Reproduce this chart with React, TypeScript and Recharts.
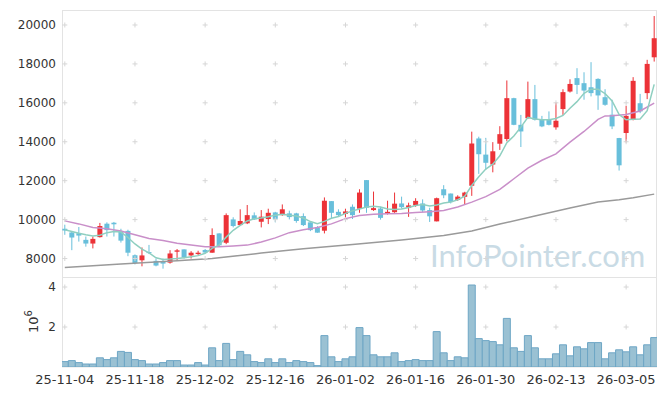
import React from 'react'
import { ComposedChart, Bar, Line, XAxis, YAxis, ReferenceDot } from 'recharts'

// trading days, 25-11-04 .. 26-03-11
const dates = [
  '25-11-04', '25-11-05', '25-11-06', '25-11-07', '25-11-10', '25-11-11', '25-11-12', '25-11-13', '25-11-14', '25-11-17',
  '25-11-18', '25-11-19', '25-11-20', '25-11-21', '25-11-24', '25-11-25', '25-11-26', '25-11-27', '25-11-28', '25-12-01',
  '25-12-02', '25-12-03', '25-12-04', '25-12-05', '25-12-08', '25-12-09', '25-12-10', '25-12-11', '25-12-12', '25-12-15',
  '25-12-16', '25-12-17', '25-12-18', '25-12-19', '25-12-22', '25-12-23', '25-12-24', '25-12-26', '25-12-29', '25-12-30',
  '26-01-02', '26-01-05', '26-01-06', '26-01-07', '26-01-08', '26-01-09', '26-01-12', '26-01-13', '26-01-14', '26-01-15',
  '26-01-16', '26-01-19', '26-01-20', '26-01-21', '26-01-22', '26-01-23', '26-01-26', '26-01-27', '26-01-28', '26-01-29',
  '26-01-30', '26-02-02', '26-02-03', '26-02-04', '26-02-05', '26-02-06', '26-02-09', '26-02-10', '26-02-11', '26-02-12',
  '26-02-13', '26-02-19', '26-02-20', '26-02-23', '26-02-24', '26-02-25', '26-02-26', '26-02-27', '26-03-03', '26-03-04',
  '26-03-05', '26-03-06', '26-03-09', '26-03-10', '26-03-11',
]

const open = [
  9530, 9340, 9300, 8960, 8770, 9100, 9790, 9840, 9410, 9420,
  8170, 7910, 8330, 7880, 7840, 7790, 8350, 8470, 8160, 8230,
  8440, 8300, 9290, 8810, 10010, 9720, 9810, 10220, 9890, 10030,
  10370, 10230, 10320, 10320, 10180, 9860, 9600, 9430, 10950, 10400,
  10290, 10660, 10560, 12030, 10490, 10570, 10310, 10380, 10830, 10610,
  10730, 10830, 10490, 9910, 11560, 11340, 11010, 11170, 11740, 14170,
  13340, 12830, 13900, 14140, 16240, 14870, 15210, 16190, 15160, 15130,
  14740, 15680, 16580, 17270, 17010, 16800, 17230, 16290, 15390, 14190,
  14450, 15130, 15980, 16500, 18340,
]
const high = [
  9740, 9360, 9620, 9130, 9130, 9830, 9860, 9880, 9530, 9480,
  8210, 8570, 8700, 8000, 8000, 8430, 8490, 8470, 8380, 8400,
  8490, 9550, 9300, 10320, 10120, 10530, 10750, 10370, 10490, 10560,
  10400, 10780, 10460, 10350, 10320, 9860, 9670, 11140, 10950, 10530,
  10560, 10780, 11560, 12030, 11440, 10660, 10970, 11390, 11180, 10870,
  11100, 11040, 10610, 11130, 11770, 11340, 11250, 11430, 14520, 14260,
  14200, 13980, 14800, 17150, 16260, 15380, 17090, 16920, 15330, 15560,
  16020, 16700, 17210, 17780, 17570, 18090, 17260, 16700, 16160, 14200,
  15850, 17320, 16460, 18210, 20460,
]
const low = [
  9220, 8430, 8870, 8610, 8520, 9080, 9130, 9130, 8820, 8120,
  7700, 7600, 8230, 7600, 7480, 7740, 7910, 8000, 8000, 8160,
  8260, 8300, 8600, 8740, 9600, 9720, 9770, 9980, 9600, 9770,
  9860, 10200, 10010, 9840, 9670, 9410, 9320, 9290, 10060, 10150,
  10070, 10030, 10350, 10350, 10450, 10000, 10260, 10350, 10570, 10140,
  10660, 10380, 9880, 9910, 11100, 10830, 10960, 10770, 11220, 12350,
  12570, 12430, 13580, 14020, 14850, 13730, 15180, 15090, 14750, 14840,
  14620, 15380, 16530, 16450, 16160, 16330, 15640, 15850, 14650, 12520,
  13970, 15100, 15470, 16190, 18120,
]
const close = [
  9440, 9080, 9180, 8770, 9010, 9670, 9460, 9760, 8920, 8300,
  7770, 8160, 8300, 7640, 7740, 8260, 8420, 8050, 8300, 8300,
  8310, 9210, 8680, 10230, 9670, 9930, 10230, 10010, 10150, 10350,
  10040, 10530, 10130, 9930, 9720, 9460, 9330, 10970, 10350, 10230,
  10420, 10230, 11390, 10610, 10590, 10090, 10400, 10820, 10640, 10730,
  10960, 10470, 10170, 11100, 11250, 10900, 11180, 11390, 13910, 13360,
  12920, 13510, 14390, 16240, 14870, 14530, 16190, 15130, 14790, 14870,
  15080, 16550, 16970, 16920, 16630, 16500, 16380, 15900, 14790, 12790,
  15330, 17130, 15560, 18000, 19320,
]

// volume, millions of shares
const volume = [
  0.27, 0.32, 0.22, 0.15, 0.15, 0.46, 0.37, 0.46, 0.78, 0.73,
  0.37, 0.32, 0.15, 0.15, 0.22, 0.32, 0.32, 0.1, 0.1, 0.22,
  0.1, 0.96, 0.32, 1.18, 0.37, 0.78, 0.61, 0.27, 0.22, 0.41,
  0.22, 0.41, 0.22, 0.32, 0.27, 0.22, 0.07, 1.57, 0.51, 0.27,
  0.41, 0.51, 1.97, 1.57, 0.61, 0.51, 0.51, 0.71, 0.27, 0.32,
  0.37, 0.32, 0.32, 1.77, 0.71, 0.32, 0.51, 0.46, 4.1, 1.42,
  1.32, 1.27, 1.11, 2.43, 0.96, 0.78, 1.57, 0.96, 0.41, 0.41,
  0.66, 1.11, 0.56, 1.01, 0.91, 1.22, 1.22, 0.41, 0.71, 0.86,
  0.76, 1.01, 0.61, 1.11, 1.47,
]

// moving averages
const ma5 = [
  9480, 9390, 9300, 9220, 9160, 9200, 9330, 9390, 9360, 9080,
  8750, 8480, 8290, 8040, 7950, 7970, 8000, 8040, 8090, 8150,
  8270, 8520, 8700, 9100, 9450, 9700, 9930, 10040, 10080, 10150,
  10230, 10270, 10220, 10180, 10080, 9900, 9790, 9910, 10070, 10160,
  10320, 10450, 10550, 10650, 10690, 10650, 10550, 10520, 10550, 10620,
  10720, 10780, 10700, 10750, 10850, 10900, 11020, 11200, 11750, 12200,
  12600, 12850, 13280, 13950, 14300, 14750, 15250, 15170, 15130, 15130,
  15200, 15350, 15720, 16060, 16490, 16700, 16700, 16470, 16100, 15400,
  15130, 15160, 15170, 15600, 16950,
]
const ma20 = [
  9935, null, 9780, null, 9600, null, 9525, null, 9415, null,
  9225, null, 9035, null, 8925, null, 8790, null, 8690, null,
  8600, null, 8605, null, 8650, null, 8690, null, 8850, null,
  9060, null, 9330, null, 9480, null, 9600, null, 9780, null,
  10050, null, 10210, null, 10270, null, 10300, null, 10320, null,
  10360, null, 10410, null, 10470, null, 10650, null, 10900, null,
  11180, null, 11550, null, 12100, null, 12650, null, 13050, null,
  13380, null, 13980, null, 14530, null, 15150, 15330, 15340, null,
  15400, null, 15580, null, 15990,
]
const maLong = [
  7540, null, null, null, null, null, null, null, 7720, null,
  null, null, null, null, null, null, 7880, null, null, null,
  null, 8000, null, null, null, null, null, null, 8280, null,
  null, null, null, null, 8500, null, null, null, null, null,
  null, 8720, null, null, null, null, null, null, 8950, null,
  null, null, null, null, 9180, null, null, null, 9420, null,
  null, null, 9770, null, null, null, null, 10190, null, null,
  null, null, 10600, null, null, null, 10900, null, null, 11020,
  null, 11120, null, null, 11310,
]

const priceTicks = [8000, 10000, 12000, 14000, 16000, 18000, 20000]
const volumeTicks = [2, 4]
const dateTicks = [0, 10, 20, 30, 40, 50, 60, 70, 80]

const RED = '#ec3237'
const BLUE = '#68bfdb'
const FRAME = '#e3e3e3'

const rows = dates.map((date, i) => ({
  i,
  date,
  open: open[i],
  high: high[i],
  low: low[i],
  close: close[i],
  volume: volume[i],
  ma5: ma5[i],
  ma20: ma20[i],
  maLong: maLong[i],
}))

const Candle = (props: any) => {
  const { x, y, width, height, payload } = props
  if (x == null || y == null) return null
  const top = Math.min(y, y + height)
  const bottom = Math.max(y, y + height)
  const span = payload.high - payload.low
  const k = span > 0 ? (bottom - top) / span : 0
  const yOpen = top + (payload.high - payload.open) * k
  const yClose = top + (payload.high - payload.close) * k
  const color = payload.close >= payload.open ? RED : BLUE
  const cx = x + width / 2
  return (
    <g>
      <line x1={cx} x2={cx} y1={top} y2={bottom} stroke={color} strokeWidth={1} />
      <rect
        x={x}
        y={Math.min(yOpen, yClose)}
        width={width}
        height={Math.max(Math.abs(yOpen - yClose), 1)}
        fill={color}
      />
    </g>
  )
}

const Cross = (p: any) => (
  <path
    d={`M${p.cx - 2.5},${p.cy}H${p.cx + 2.5}M${p.cx},${p.cy - 2.5}V${p.cy + 2.5}`}
    stroke="#d6d6d6"
    strokeWidth={1}
    fill="none"
  />
)

export default function App() {
  return (
    <div style={{ position: 'absolute', left: 0, top: 0, width: 665, height: 396, background: '#fff', fontFamily: 'DejaVu Sans' }}>
      {/* watermark, unit label and panel frame */}
      <svg width={665} height={396} style={{ position: 'absolute', left: 0, top: 0 }}>
        <text x={430} y={267} fontSize={31} fill="#c9dbe5" fontFamily="Lato">
          InfoPointer.com
        </text>
        <text x={38} y={321.5} fontSize={13} fill="#333" textAnchor="middle" transform="rotate(-90, 38, 321.5)">
          10<tspan dy={-6} fontSize={10}>6</tspan>
        </text>
        <rect x={62.5} y={10.5} width={594} height={356.5} fill="none" stroke={FRAME} />
        <line x1={62} x2={657} y1={277.5} y2={277.5} stroke={FRAME} />
      </svg>

      <div style={{ position: 'absolute', left: 0, top: 0 }}>
        <ComposedChart width={665} height={278} data={rows} margin={{ top: 10, right: 8, left: 0, bottom: 0 }}>
          <XAxis type="number" dataKey="i" domain={[-0.4, 84.4]} ticks={dateTicks} hide allowDataOverflow />
          <YAxis
            domain={[7000, 20770]}
            ticks={priceTicks}
            allowDataOverflow
            width={62}
            tickLine={false}
            axisLine={false}
            tickMargin={0}
            tick={{ fill: '#333', fontSize: 12 }}
          />
          {dateTicks.flatMap((t) =>
            priceTicks.map((v) => <ReferenceDot key={`p${t}-${v}`} x={t} y={v} shape={Cross} />)
          )}
          <Bar dataKey={(d: any) => [d.low, d.high]} shape={Candle} barSize={5} isAnimationActive={false} />
          <Line dataKey="maLong" stroke="#9a9a9a" strokeWidth={1.5} dot={false} activeDot={false} connectNulls isAnimationActive={false} />
          <Line dataKey="ma20" stroke="#c98fc9" strokeWidth={1.5} dot={false} activeDot={false} connectNulls isAnimationActive={false} />
          <Line dataKey="ma5" stroke="#8fcfc0" strokeWidth={1.5} dot={false} activeDot={false} isAnimationActive={false} />
        </ComposedChart>
      </div>

      <div style={{ position: 'absolute', left: 0, top: 278 }}>
        <ComposedChart width={665} height={118} data={rows} margin={{ top: 0, right: 8, left: 0, bottom: 0 }}>
          <XAxis
            type="number"
            dataKey="i"
            domain={[-0.4, 84.4]}
            ticks={dateTicks}
            allowDataOverflow
            height={29}
            tickLine={false}
            axisLine={false}
            tickFormatter={(i: number) => dates[i]}
            tick={{ fill: '#333', fontSize: 13 }}
          />
          <YAxis
            domain={[0, 4.45]}
            ticks={volumeTicks}
            allowDataOverflow
            width={62}
            tickLine={false}
            axisLine={false}
            tickMargin={0}
            tick={{ fill: '#333', fontSize: 12 }}
          />
          {dateTicks.flatMap((t) =>
            volumeTicks.map((v) => <ReferenceDot key={`v${t}-${v}`} x={t} y={v} shape={Cross} />)
          )}
          <Bar dataKey="volume" fill="#9ac1d3" stroke="#6ea6c5" strokeWidth={1} barSize={7} isAnimationActive={false} />
        </ComposedChart>
      </div>
    </div>
  )
}
